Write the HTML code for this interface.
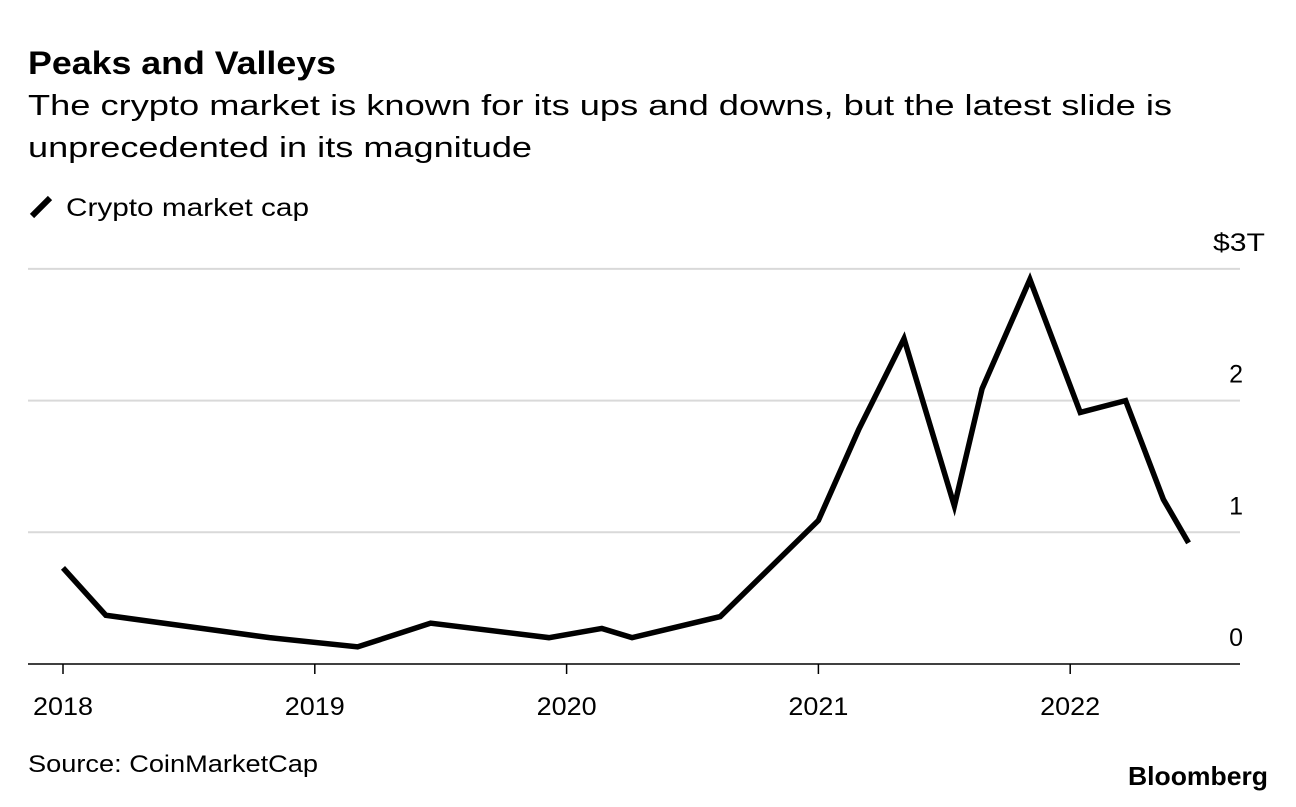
<!DOCTYPE html>
<html><head><meta charset="utf-8"><style>
html,body{margin:0;padding:0;background:#fff;}
body{width:1296px;height:802px;overflow:hidden;font-family:"Liberation Sans",sans-serif;color:#000;}
</style></head><body>
<svg width="1296" height="802" xmlns="http://www.w3.org/2000/svg" font-family="Liberation Sans, sans-serif">
<text x="28" y="74" font-size="32" font-weight="bold" textLength="308" lengthAdjust="spacingAndGlyphs">Peaks and Valleys</text>
<text x="28" y="115" font-size="29" textLength="1144" lengthAdjust="spacingAndGlyphs">The crypto market is known for its ups and downs, but the latest slide is</text>
<text x="28" y="157" font-size="29" textLength="504" lengthAdjust="spacingAndGlyphs">unprecedented in its magnitude</text>
<g>
<line x1="32" y1="216" x2="50" y2="198" stroke="#000" stroke-width="6"/>
<text x="66" y="216" font-size="25" textLength="243" lengthAdjust="spacingAndGlyphs">Crypto market cap</text>
</g>
<g id="grid"></g>
<g id="xaxis"></g>
<g id="series"></g>
<text x="28" y="772" font-size="24" textLength="290" lengthAdjust="spacingAndGlyphs">Source: CoinMarketCap</text>
<text x="1128" y="785" font-size="26" font-weight="bold" textLength="140" lengthAdjust="spacingAndGlyphs">Bloomberg</text>
</svg>
<script>
const dates = [2018.0,2018.17,2018.82,2019.17,2019.46,2019.93,2020.14,2020.26,2020.61,2021.0,2021.16,2021.34,2021.54,2021.65,2021.84,2022.04,2022.22,2022.37,2022.47];
const values = [0.73,0.37,0.2,0.13,0.31,0.2,0.27,0.2,0.36,1.09,1.78,2.47,1.2,2.09,2.92,1.91,2.0,1.25,0.92];
const yTicks = [0,1,2,3];
const yTickLabels = ["0","1","2","$3T"];
const xTicks = [2018,2019,2020,2021,2022];
const xTickLabels = ["2018","2019","2020","2021","2022"];
const NS = "http://www.w3.org/2000/svg";
function xs(v){return 63 + (v-2018)*251.8;}
function ys(v){return 664 - v*131.7;}
const grid = document.getElementById('grid');
yTicks.forEach((t,i)=>{
  const l=document.createElementNS(NS,'line');
  l.setAttribute('x1',28);l.setAttribute('x2',1240);
  l.setAttribute('y1',ys(t));l.setAttribute('y2',ys(t));
  l.setAttribute('stroke',t===0?'#000':'#d9d9d9');l.setAttribute('stroke-width',t===0?1.5:2);
  
  
  grid.appendChild(l);
  const tx=document.createElementNS(NS,'text');
  tx.setAttribute('x',t===3?1213:1243);tx.setAttribute('y',ys(t)-18);
  tx.setAttribute('text-anchor',t===3?'start':'end');tx.setAttribute('font-size','25');
  if(t===3){tx.setAttribute('textLength','52');tx.setAttribute('lengthAdjust','spacingAndGlyphs');}
  tx.textContent=yTickLabels[i];
  
  
  grid.appendChild(tx);
});
const xa=document.getElementById('xaxis');
xTicks.forEach((t,i)=>{
  const l=document.createElementNS(NS,'line');
  l.setAttribute('x1',xs(t));l.setAttribute('x2',xs(t));
  l.setAttribute('y1',664);l.setAttribute('y2',674);
  l.setAttribute('stroke','#000');l.setAttribute('stroke-width',1.5);
  
  
  xa.appendChild(l);
  const tx=document.createElementNS(NS,'text');
  tx.setAttribute('x',xs(t));tx.setAttribute('y',715);
  tx.setAttribute('text-anchor','middle');tx.setAttribute('font-size','25');
  tx.setAttribute('textLength','60');tx.setAttribute('lengthAdjust','spacingAndGlyphs');
  tx.textContent=xTickLabels[i];
  
  
  xa.appendChild(tx);
});
const p=document.createElementNS(NS,'polyline');
p.setAttribute('points',dates.map((d,i)=>xs(d)+','+ys(values[i])).join(' '));
p.setAttribute('fill','none');p.setAttribute('stroke','#000');p.setAttribute('stroke-width',5.5);
p.setAttribute('stroke-linejoin','miter');


document.getElementById('series').appendChild(p);
</script>
</body></html>
